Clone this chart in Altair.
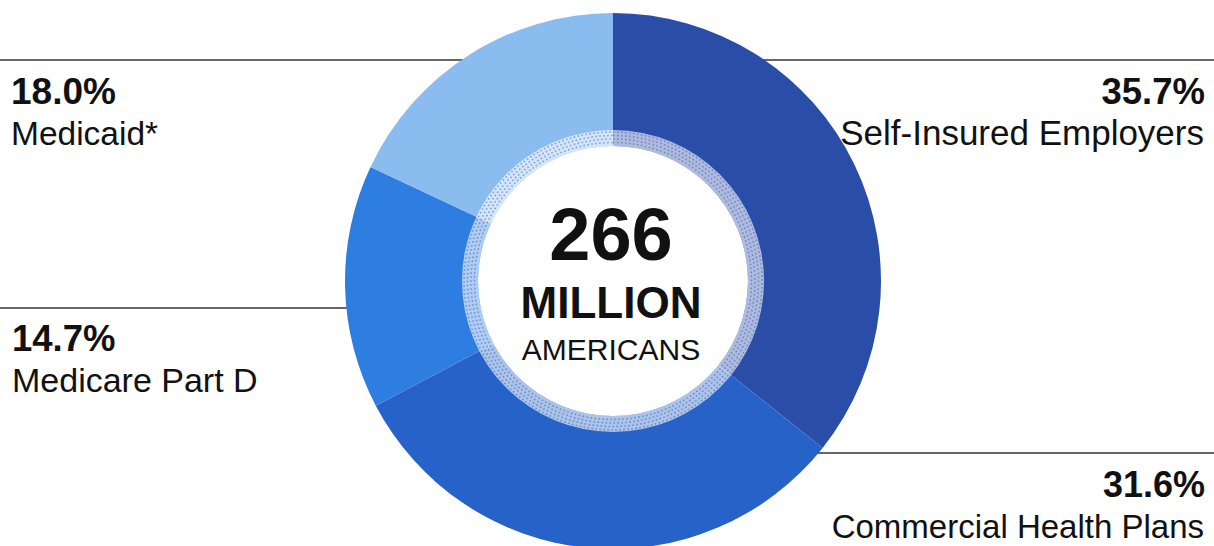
import altair as alt
import pandas as pd

# ---- data ----
names = ["Self-Insured Employers", "Commercial Health Plans", "Medicare Part D", "Medicaid*"]
shares = [35.7, 31.6, 14.7, 18.0]
pct_labels = ["35.7%", "31.6%", "14.7%", "18.0%"]
colors = ["#2a4ea8", "#2762c8", "#2e7de0", "#8bbcf0"]
center_lines = ["266", "MILLION", "AMERICANS"]

W, H = 1214, 546
CX, CY = 613, 281
R_OUT = 268
R_RING = 151
R_WHITE = 135
FONT = "Liberation Sans"
TWO_PI = 6.2832

df = pd.DataFrame({"name": names, "share": shares, "idx": list(range(len(names)))})

pie = alt.Chart(df).mark_arc(radius=R_OUT, radius2=0).encode(
    theta=alt.Theta("share:Q", stack=True),
    color=alt.Color("name:N", scale=alt.Scale(domain=names, range=colors), legend=None),
    order=alt.Order("idx:Q"),
    x=alt.value(CX),
    y=alt.value(CY),
)

one = pd.DataFrame({"a": [0]})

ring = alt.Chart(one).mark_arc(radius=R_RING, radius2=R_WHITE, theta=0, theta2=TWO_PI,
                               fill="white", fillOpacity=0.62).encode(x=alt.value(CX), y=alt.value(CY))
ring_dots = [
    alt.Chart(one).mark_arc(radius=r, radius2=0, theta=0, theta2=TWO_PI, fillOpacity=0,
                            stroke="#2a4ea8", strokeOpacity=0.45, strokeWidth=1.6,
                            strokeDash=[1.6, 2.4]).encode(x=alt.value(CX), y=alt.value(CY))
    for r in [138.5, 142, 145.5, 149]
]
white = alt.Chart(one).mark_arc(radius=R_WHITE, theta=0, theta2=TWO_PI, fill="white").encode(
    x=alt.value(CX), y=alt.value(CY))

# leader lines (behind the pie)
def hline(x1, x2, y):
    return alt.Chart(one).mark_rule(color="#333333", strokeWidth=1.4).encode(
        x=alt.value(x1), x2=alt.value(x2), y=alt.value(y))

lines = [hline(0, CX, 60), hline(CX, W, 60), hline(0, CX, 308), hline(CX, W, 453)]

def txt(s, x, y, size, bold, align):
    return alt.Chart(one).mark_text(text=s, font=FONT, fontSize=size,
                                    fontWeight="bold" if bold else "normal",
                                    align=align, baseline="alphabetic", color="#111111").encode(
        x=alt.value(x), y=alt.value(y))

labels = [
    txt(pct_labels[0], 1205, 104, 36.5, True, "right"),
    txt(names[0], 1204, 145, 35, False, "right"),
    txt(pct_labels[1], 1205, 497, 36, True, "right"),
    txt(names[1], 1204, 538, 33, False, "right"),
    txt(pct_labels[2], 12, 351, 36.5, True, "left"),
    txt(names[2], 12, 392, 34, False, "left"),
    txt(pct_labels[3], 11, 104, 37, True, "left"),
    txt(names[3], 11, 145, 33.5, False, "left"),
    txt(center_lines[0], CX - 2, 260, 74, True, "center"),
    txt(center_lines[1], CX - 2, 318, 44, True, "center"),
    txt(center_lines[2], CX - 2, 360, 30, False, "center"),
]

chart = alt.layer(*lines, pie, ring, *ring_dots, white, *labels).properties(
    width=W, height=H, padding=0, autosize=alt.AutoSizeParams(type="none"),
    background="white",
).configure_view(stroke=None)

chart.save("out.html", embed_options={"renderer": "svg", "actions": False})
